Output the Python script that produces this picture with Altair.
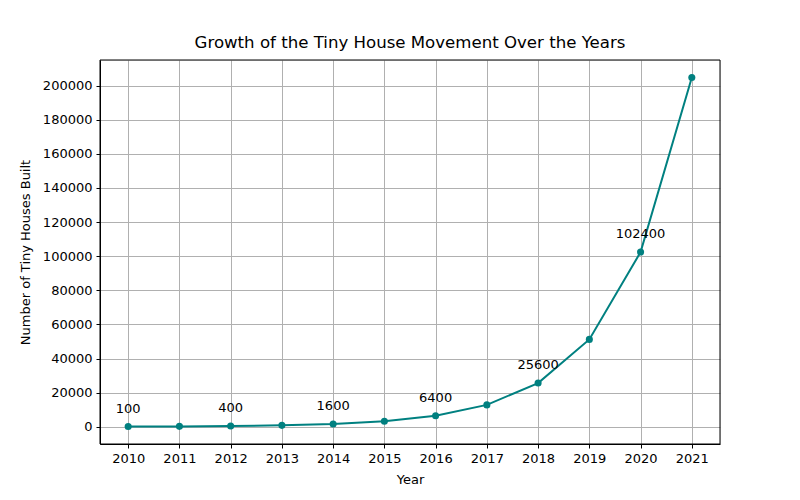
import altair as alt
import pandas as pd

years = [2010, 2011, 2012, 2013, 2014, 2015, 2016, 2017, 2018, 2019, 2020, 2021]
houses = [100, 200, 400, 800, 1600, 3200, 6400, 12800, 25600, 51200, 102400, 204800]
labeled_years = [2010, 2012, 2014, 2016, 2018, 2020]

df = pd.DataFrame({"Year": years, "Houses": houses})
df_lab = df[df["Year"].isin(labeled_years)]

font = "DejaVu Sans"
x = alt.X("Year:Q", scale=alt.Scale(domain=[2009.45, 2021.55], nice=False, zero=False),
          axis=alt.Axis(values=years, format="d", title="Year", grid=True, gridColor="#b0b0b0",
                        tickColor="black", domain=True, domainColor="black", labelFontSize=13, titleFontSize=13,
                        labelFont=font, titleFont=font, titleFontWeight="normal", labelColor="black",
                        titleColor="black", tickSize=4, labelPadding=4, titlePadding=8))
y = alt.Y("Houses:Q", scale=alt.Scale(domain=[-10135, 215035], nice=False, zero=False),
          axis=alt.Axis(values=list(range(0, 200001, 20000)), format="d",
                        title="Number of Tiny Houses Built", grid=True, gridColor="#b0b0b0",
                        tickColor="black", domain=True, domainColor="black", labelFontSize=13, titleFontSize=13,
                        labelFont=font, titleFont=font, titleFontWeight="normal", labelColor="black",
                        titleColor="black", tickSize=4, labelPadding=4, titlePadding=10))

frame = alt.Chart(df.head(1)).mark_rect(filled=False, stroke="black", strokeWidth=1).encode(
    x=alt.value(0), x2=alt.value(620), y=alt.value(0), y2=alt.value(384))
line = alt.Chart(df).mark_line(color="#008080", strokeWidth=2).encode(x=x, y=y)
pts = alt.Chart(df).mark_circle(color="#008080", size=50, opacity=1).encode(x=x, y=y)
txt = alt.Chart(df_lab).mark_text(dy=-18, fontSize=13, font=font, color="black").encode(
    x=x, y=y, text=alt.Text("Houses:Q", format="d"))

chart = alt.layer(line, pts, txt, frame).properties(
    width=620, height=384,
    title=alt.TitleParams("Growth of the Tiny House Movement Over the Years", font=font,
                          fontSize=16.6, fontWeight="normal", color="black", anchor="middle", offset=8),
    autosize=alt.AutoSizeParams(type="none"),
    padding={"left": 92, "top": 52, "right": 64, "bottom": 48},
).configure_view(stroke="black", strokeWidth=1).configure(background="white")

chart.save("out.html", embed_options={"renderer": "svg", "actions": False})
